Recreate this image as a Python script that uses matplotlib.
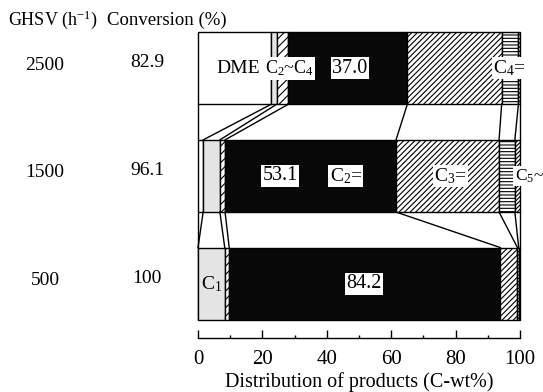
import matplotlib
matplotlib.use('Agg')
import matplotlib.pyplot as plt
from matplotlib.ticker import MultipleLocator
from matplotlib.transforms import blended_transform_factory

plt.rcParams['font.family'] = ['Liberation Serif', 'DejaVu Serif']
plt.rcParams['mathtext.fontset'] = 'custom'
plt.rcParams['mathtext.rm'] = 'Liberation Serif'
plt.rcParams['mathtext.it'] = 'Liberation Serif:italic'
plt.rcParams['hatch.linewidth'] = 0.8

# data (C-wt%)
ghsv = ['2500', '1500', '500']
conversion = ['82.9', '96.1', '100']
products = ['DME', 'C1', 'C2~C4', 'C2=', 'C3=', 'C4=', 'C5~']
dme = [22.7, 1.6, 0.0]
c1 = [1.7, 5.2, 8.3]
c2_c4 = [3.6, 1.6, 1.4]
c2_ole = [37.0, 53.1, 84.2]
c3_ole = [29.3, 32.0, 5.3]
c4_ole = [5.2, 4.9, 0.4]
c5_plus = [0.5, 1.6, 0.4]

series = [dme, c1, c2_c4, c2_ole, c3_ole, c4_ole, c5_plus]
# fill style for each product
styles = [dict(facecolor='white', hatch=None),
          dict(facecolor='#e4e4e4', hatch=None),
          dict(facecolor='white', hatch='////'),
          dict(facecolor='#080808', hatch=None),
          dict(facecolor='white', hatch='//////'),
          dict(facecolor='white', hatch='-----'),
          dict(facecolor='white', hatch='////////')]

ypos = [2, 1, 0]
h = 0.67

fig = plt.figure(figsize=(5.43, 3.92), dpi=100)
ax = fig.add_axes([198/543, 0.139, 322/543, 0.922 - 0.139])

# stacked horizontal bars
left = [0.0, 0.0, 0.0]
bounds = [[0.0], [0.0], [0.0]]
for vals, st in zip(series, styles):
    ax.barh(ypos, vals, height=h, left=left, facecolor=st['facecolor'],
            hatch=st['hatch'], edgecolor='black', linewidth=1.0, clip_on=False)
    left = [l + v for l, v in zip(left, vals)]
    for i in range(3):
        bounds[i].append(left[i])

# lines joining the boundaries of neighbouring bars
for i in range(2):
    for a, b in zip(bounds[i], bounds[i + 1]):
        ax.plot([a, b], [ypos[i] - h/2, ypos[i + 1] + h/2], color='black',
                lw=1.0, clip_on=False)

# labels inside the bars
box = dict(facecolor='white', edgecolor='none', pad=1.0)
labels = [('DME', 0, 12.6, None, 14),
          (r'C$_2$~C$_4$', 0, 28.3, box, 13),
          ('37.0', 0, 47.2, box, 14.5),
          (r'C$_4$=', 0, 96.8, box, 14),
          ('53.1', 1, 25.5, box, 14.5),
          (r'C$_2$=', 1, 45.9, box, 14),
          (r'C$_3$=', 1, 78.3, box, 14),
          (r'C$_5$~', 1, 98.4, box, 12.5),
          (r'C$_1$', 2, 4.3, None, 14),
          ('84.2', 2, 51.6, box, 14.5)]
for txt, row, x, bb, fs in labels:
    ha = 'left' if txt.endswith('~') else 'center'
    ax.text(x, ypos[row], txt, ha=ha, va='center', fontsize=fs, bbox=bb,
            clip_on=False)

# left-hand table
tr = blended_transform_factory(fig.transFigure, ax.transData)
for y, g, c in zip(ypos, ghsv, conversion):
    fig.text(45/543, y + 0.03, g, fontsize=14, ha='center', va='center', transform=tr)
    fig.text(147/543, y + 0.05, c, fontsize=14, ha='center', va='center', transform=tr)
fig.text(8/543, 1 - 20/392, r'GHSV (h$^{-1}$)', fontsize=13, ha='left', va='center')
fig.text(107/543, 1 - 20/392, 'Conversion (%)', fontsize=13.5, ha='left', va='center')

ax.set_xlim(0, 100)
ax.set_ylim(-0.5, 2.35)
for s in ['top', 'left', 'right']:
    ax.spines[s].set_visible(False)
ax.spines['bottom'].set_linewidth(1.0)
ax.set_yticks([])
ax.xaxis.set_major_locator(MultipleLocator(20))
ax.xaxis.set_minor_locator(MultipleLocator(10))
ax.tick_params(axis='x', which='major', direction='in', length=6, width=1.0,
               labelsize=15, pad=9)
ax.tick_params(axis='x', which='minor', direction='in', length=2, width=1.0)
ax.set_xlabel('Distribution of products (C-wt%)', fontsize=14.5, labelpad=2)

fig.savefig('out.png', dpi=100)
